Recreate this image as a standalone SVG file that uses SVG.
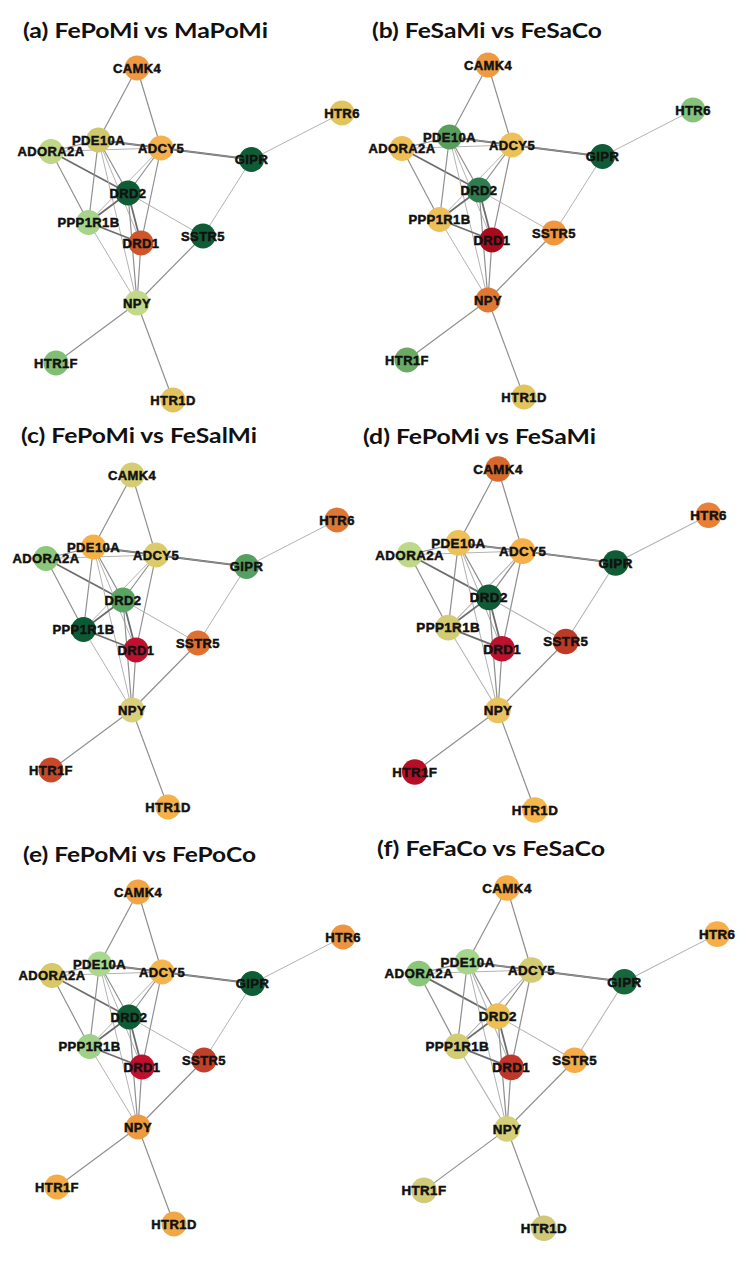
<svg xmlns="http://www.w3.org/2000/svg" width="749" height="1261" viewBox="0 0 749 1261">
<style>
.bg{fill:#ffffff}
.title{font-family:Lato,"Open Sans","Liberation Sans",sans-serif;font-weight:bold;font-size:21.5px;fill:#111}
.e{fill:none;stroke-linecap:round}
.l{stroke:#b3b3b3;stroke-width:1}
.m{stroke:#909090;stroke-width:1.2}
.d{stroke:#6e6e6e;stroke-width:1.8}
.n circle{stroke:none}
.n text{font-family:"Liberation Sans",Arial,sans-serif;font-weight:bold;font-size:13px;letter-spacing:0.4px;text-anchor:middle;fill:#111;stroke:#111;stroke-width:0.5}
</style>
<rect class="bg" x="0" y="0" width="749" height="1261"/>

<g id="titles">
<text class="title" x="23" y="38" textLength="245" lengthAdjust="spacingAndGlyphs">(a) FePoMi vs MaPoMi</text>
<text class="title" x="372" y="38" textLength="230" lengthAdjust="spacingAndGlyphs">(b) FeSaMi vs FeSaCo</text>
<text class="title" x="21" y="443" textLength="236" lengthAdjust="spacingAndGlyphs">(c) FePoMi vs FeSalMi</text>
<text class="title" x="363" y="444" textLength="233" lengthAdjust="spacingAndGlyphs">(d) FePoMi vs FeSaMi</text>
<text class="title" x="23" y="862" textLength="233" lengthAdjust="spacingAndGlyphs">(e) FePoMi vs FePoCo</text>
<text class="title" x="377" y="856" textLength="228" lengthAdjust="spacingAndGlyphs">(f) FeFaCo vs FeSaCo</text>
</g>

<!-- Panel (a) -->
<g id="panel-a" transform="translate(137,68)">
<g id="a-connectors" class="e">
<line class="m" x1="0" y1="0" x2="-38.5" y2="72"/>
<line class="m" x1="0" y1="0" x2="24" y2="80"/>
<line class="d" x1="-38.5" y1="72" x2="24" y2="80"/>
<line class="d" x1="24" y1="80" x2="114.5" y2="91.5"/>
<line class="m" x1="-38.5" y1="72" x2="114.5" y2="91.5"/>
<line class="l" x1="-86" y1="83.5" x2="24" y2="80"/>
<line class="m" x1="-86" y1="83.5" x2="-38.5" y2="72"/>
<line class="d" x1="-86" y1="83.5" x2="-9" y2="125"/>
<line class="m" x1="-86" y1="83.5" x2="-48.5" y2="154.5"/>
<line class="m" x1="-38.5" y1="72" x2="-9" y2="125"/>
<line class="m" x1="-38.5" y1="72" x2="-48.5" y2="154.5"/>
<line class="l" x1="-38.5" y1="72" x2="4" y2="175"/>
<line class="l" x1="-38.5" y1="72" x2="0" y2="235"/>
<line class="m" x1="24" y1="80" x2="-9" y2="125"/>
<line class="l" x1="24" y1="80" x2="-48.5" y2="154.5"/>
<line class="m" x1="24" y1="80" x2="4" y2="175"/>
<line class="d" x1="-9" y1="125" x2="-48.5" y2="154.5"/>
<line class="d" x1="-9" y1="125" x2="4" y2="175"/>
<line class="l" x1="-9" y1="125" x2="66" y2="168"/>
<line class="m" x1="-9" y1="125" x2="0" y2="235"/>
<line class="d" x1="-48.5" y1="154.5" x2="4" y2="175"/>
<line class="l" x1="-48.5" y1="154.5" x2="0" y2="235"/>
<line class="m" x1="4" y1="175" x2="0" y2="235"/>
<line class="l" x1="114.5" y1="91.5" x2="205" y2="45"/>
<line class="l" x1="114.5" y1="91.5" x2="66" y2="168"/>
<line class="m" x1="66" y1="168" x2="0" y2="235"/>
<line class="m" x1="0" y1="235" x2="-81" y2="295"/>
<line class="m" x1="0" y1="235" x2="36" y2="332"/>
</g>
<g id="a-CAMK4" class="n"><circle cx="0" cy="0" r="12.5" fill="#ef9a42"/><text x="0" y="4.7">CAMK4</text></g>
<g id="a-HTR6" class="n"><circle cx="205" cy="45" r="12.5" fill="#e3c35e"/><text x="205" y="49.7">HTR6</text></g>
<g id="a-PDE10A" class="n"><circle cx="-38.5" cy="72" r="12.5" fill="#d0c86e"/><text x="-38.5" y="76.7">PDE10A</text></g>
<g id="a-ADORA2A" class="n"><circle cx="-86" cy="83.5" r="12.5" fill="#bfd689"/><text x="-86" y="88.2">ADORA2A</text></g>
<g id="a-ADCY5" class="n"><circle cx="24" cy="80" r="12.5" fill="#f5b24c"/><text x="24" y="84.7">ADCY5</text></g>
<g id="a-GIPR" class="n"><circle cx="114.5" cy="91.5" r="12.5" fill="#0f5c36"/><text x="114.5" y="96.2">GIPR</text></g>
<g id="a-DRD2" class="n"><circle cx="-9" cy="125" r="12.5" fill="#0f5c36"/><text x="-9" y="129.7">DRD2</text></g>
<g id="a-PPP1R1B" class="n"><circle cx="-48.5" cy="154.5" r="12.5" fill="#a6d48a"/><text x="-48.5" y="159.2">PPP1R1B</text></g>
<g id="a-DRD1" class="n"><circle cx="4" cy="175" r="12.5" fill="#d0562a"/><text x="4" y="179.7">DRD1</text></g>
<g id="a-SSTR5" class="n"><circle cx="66" cy="168" r="12.5" fill="#0f5c36"/><text x="66" y="172.7">SSTR5</text></g>
<g id="a-NPY" class="n"><circle cx="0" cy="235" r="12.5" fill="#c2d98a"/><text x="0" y="239.7">NPY</text></g>
<g id="a-HTR1F" class="n"><circle cx="-81" cy="295" r="12.5" fill="#80bf74"/><text x="-81" y="299.7">HTR1F</text></g>
<g id="a-HTR1D" class="n"><circle cx="36" cy="332" r="12.5" fill="#e3c35e"/><text x="36" y="336.7">HTR1D</text></g>
</g>

<!-- Panel (b) -->
<g id="panel-b" transform="translate(488,65)">
<g id="b-connectors" class="e">
<line class="m" x1="0" y1="0" x2="-38.5" y2="72"/>
<line class="m" x1="0" y1="0" x2="24" y2="80"/>
<line class="d" x1="-38.5" y1="72" x2="24" y2="80"/>
<line class="d" x1="24" y1="80" x2="114.5" y2="91.5"/>
<line class="m" x1="-38.5" y1="72" x2="114.5" y2="91.5"/>
<line class="l" x1="-86" y1="83.5" x2="24" y2="80"/>
<line class="m" x1="-86" y1="83.5" x2="-38.5" y2="72"/>
<line class="d" x1="-86" y1="83.5" x2="-9" y2="125"/>
<line class="m" x1="-86" y1="83.5" x2="-48.5" y2="154.5"/>
<line class="m" x1="-38.5" y1="72" x2="-9" y2="125"/>
<line class="m" x1="-38.5" y1="72" x2="-48.5" y2="154.5"/>
<line class="l" x1="-38.5" y1="72" x2="4" y2="175"/>
<line class="l" x1="-38.5" y1="72" x2="0" y2="235"/>
<line class="m" x1="24" y1="80" x2="-9" y2="125"/>
<line class="l" x1="24" y1="80" x2="-48.5" y2="154.5"/>
<line class="m" x1="24" y1="80" x2="4" y2="175"/>
<line class="d" x1="-9" y1="125" x2="-48.5" y2="154.5"/>
<line class="d" x1="-9" y1="125" x2="4" y2="175"/>
<line class="l" x1="-9" y1="125" x2="66" y2="168"/>
<line class="m" x1="-9" y1="125" x2="0" y2="235"/>
<line class="d" x1="-48.5" y1="154.5" x2="4" y2="175"/>
<line class="l" x1="-48.5" y1="154.5" x2="0" y2="235"/>
<line class="m" x1="4" y1="175" x2="0" y2="235"/>
<line class="l" x1="114.5" y1="91.5" x2="205" y2="45"/>
<line class="l" x1="114.5" y1="91.5" x2="66" y2="168"/>
<line class="m" x1="66" y1="168" x2="0" y2="235"/>
<line class="m" x1="0" y1="235" x2="-81" y2="295"/>
<line class="m" x1="0" y1="235" x2="36" y2="332"/>
</g>
<g id="b-CAMK4" class="n"><circle cx="0" cy="0" r="12.5" fill="#ef9a42"/><text x="0" y="4.7">CAMK4</text></g>
<g id="b-HTR6" class="n"><circle cx="205" cy="45" r="12.5" fill="#86c27a"/><text x="205" y="49.7">HTR6</text></g>
<g id="b-PDE10A" class="n"><circle cx="-38.5" cy="72" r="12.5" fill="#5a9e5e"/><text x="-38.5" y="76.7">PDE10A</text></g>
<g id="b-ADORA2A" class="n"><circle cx="-86" cy="83.5" r="12.5" fill="#efbe55"/><text x="-86" y="88.2">ADORA2A</text></g>
<g id="b-ADCY5" class="n"><circle cx="24" cy="80" r="12.5" fill="#ecc158"/><text x="24" y="84.7">ADCY5</text></g>
<g id="b-GIPR" class="n"><circle cx="114.5" cy="91.5" r="12.5" fill="#0f5c36"/><text x="114.5" y="96.2">GIPR</text></g>
<g id="b-DRD2" class="n"><circle cx="-9" cy="125" r="12.5" fill="#2e7d4f"/><text x="-9" y="129.7">DRD2</text></g>
<g id="b-PPP1R1B" class="n"><circle cx="-48.5" cy="154.5" r="12.5" fill="#edc15a"/><text x="-48.5" y="159.2">PPP1R1B</text></g>
<g id="b-DRD1" class="n"><circle cx="4" cy="175" r="12.5" fill="#aa0a1a"/><text x="4" y="179.7">DRD1</text></g>
<g id="b-SSTR5" class="n"><circle cx="66" cy="168" r="12.5" fill="#f0963e"/><text x="66" y="172.7">SSTR5</text></g>
<g id="b-NPY" class="n"><circle cx="0" cy="235" r="12.5" fill="#e07833"/><text x="0" y="239.7">NPY</text></g>
<g id="b-HTR1F" class="n"><circle cx="-81" cy="295" r="12.5" fill="#6aaa62"/><text x="-81" y="299.7">HTR1F</text></g>
<g id="b-HTR1D" class="n"><circle cx="36" cy="332" r="12.5" fill="#e3c35e"/><text x="36" y="336.7">HTR1D</text></g>
</g>

<!-- Panel (c) -->
<g id="panel-c" transform="translate(132,475)">
<g id="c-connectors" class="e">
<line class="m" x1="0" y1="0" x2="-38.5" y2="72"/>
<line class="m" x1="0" y1="0" x2="24" y2="80"/>
<line class="d" x1="-38.5" y1="72" x2="24" y2="80"/>
<line class="d" x1="24" y1="80" x2="114.5" y2="91.5"/>
<line class="m" x1="-38.5" y1="72" x2="114.5" y2="91.5"/>
<line class="l" x1="-86" y1="83.5" x2="24" y2="80"/>
<line class="m" x1="-86" y1="83.5" x2="-38.5" y2="72"/>
<line class="d" x1="-86" y1="83.5" x2="-9" y2="125"/>
<line class="m" x1="-86" y1="83.5" x2="-48.5" y2="154.5"/>
<line class="m" x1="-38.5" y1="72" x2="-9" y2="125"/>
<line class="m" x1="-38.5" y1="72" x2="-48.5" y2="154.5"/>
<line class="l" x1="-38.5" y1="72" x2="4" y2="175"/>
<line class="l" x1="-38.5" y1="72" x2="0" y2="235"/>
<line class="m" x1="24" y1="80" x2="-9" y2="125"/>
<line class="l" x1="24" y1="80" x2="-48.5" y2="154.5"/>
<line class="m" x1="24" y1="80" x2="4" y2="175"/>
<line class="d" x1="-9" y1="125" x2="-48.5" y2="154.5"/>
<line class="d" x1="-9" y1="125" x2="4" y2="175"/>
<line class="l" x1="-9" y1="125" x2="66" y2="168"/>
<line class="m" x1="-9" y1="125" x2="0" y2="235"/>
<line class="d" x1="-48.5" y1="154.5" x2="4" y2="175"/>
<line class="l" x1="-48.5" y1="154.5" x2="0" y2="235"/>
<line class="m" x1="4" y1="175" x2="0" y2="235"/>
<line class="l" x1="114.5" y1="91.5" x2="205" y2="45"/>
<line class="l" x1="114.5" y1="91.5" x2="66" y2="168"/>
<line class="m" x1="66" y1="168" x2="0" y2="235"/>
<line class="m" x1="0" y1="235" x2="-81" y2="295"/>
<line class="m" x1="0" y1="235" x2="36" y2="332"/>
</g>
<g id="c-CAMK4" class="n"><circle cx="0" cy="0" r="12.5" fill="#d6cd72"/><text x="0" y="4.7">CAMK4</text></g>
<g id="c-HTR6" class="n"><circle cx="205" cy="45" r="12.5" fill="#e07633"/><text x="205" y="49.7">HTR6</text></g>
<g id="c-PDE10A" class="n"><circle cx="-38.5" cy="72" r="12.5" fill="#f5b048"/><text x="-38.5" y="76.7">PDE10A</text></g>
<g id="c-ADORA2A" class="n"><circle cx="-86" cy="83.5" r="12.5" fill="#8cc77c"/><text x="-86" y="88.2">ADORA2A</text></g>
<g id="c-ADCY5" class="n"><circle cx="24" cy="80" r="12.5" fill="#dccb6a"/><text x="24" y="84.7">ADCY5</text></g>
<g id="c-GIPR" class="n"><circle cx="114.5" cy="91.5" r="12.5" fill="#55a060"/><text x="114.5" y="96.2">GIPR</text></g>
<g id="c-DRD2" class="n"><circle cx="-9" cy="125" r="12.5" fill="#5aa462"/><text x="-9" y="129.7">DRD2</text></g>
<g id="c-PPP1R1B" class="n"><circle cx="-48.5" cy="154.5" r="12.5" fill="#0d5b35"/><text x="-48.5" y="159.2">PPP1R1B</text></g>
<g id="c-DRD1" class="n"><circle cx="4" cy="175" r="12.5" fill="#c0102e"/><text x="4" y="179.7">DRD1</text></g>
<g id="c-SSTR5" class="n"><circle cx="66" cy="168" r="12.5" fill="#e07030"/><text x="66" y="172.7">SSTR5</text></g>
<g id="c-NPY" class="n"><circle cx="0" cy="235" r="12.5" fill="#d8d07a"/><text x="0" y="239.7">NPY</text></g>
<g id="c-HTR1F" class="n"><circle cx="-81" cy="295" r="12.5" fill="#c8482a"/><text x="-81" y="299.7">HTR1F</text></g>
<g id="c-HTR1D" class="n"><circle cx="36" cy="332" r="12.5" fill="#f5b048"/><text x="36" y="336.7">HTR1D</text></g>
</g>

<!-- Panel (d) -->
<g id="panel-d" transform="translate(498,469) scale(1.027)">
<g id="d-connectors" class="e">
<line class="m" x1="0" y1="0" x2="-38.5" y2="72"/>
<line class="m" x1="0" y1="0" x2="24" y2="80"/>
<line class="d" x1="-38.5" y1="72" x2="24" y2="80"/>
<line class="d" x1="24" y1="80" x2="114.5" y2="91.5"/>
<line class="m" x1="-38.5" y1="72" x2="114.5" y2="91.5"/>
<line class="l" x1="-86" y1="83.5" x2="24" y2="80"/>
<line class="m" x1="-86" y1="83.5" x2="-38.5" y2="72"/>
<line class="d" x1="-86" y1="83.5" x2="-9" y2="125"/>
<line class="m" x1="-86" y1="83.5" x2="-48.5" y2="154.5"/>
<line class="m" x1="-38.5" y1="72" x2="-9" y2="125"/>
<line class="m" x1="-38.5" y1="72" x2="-48.5" y2="154.5"/>
<line class="l" x1="-38.5" y1="72" x2="4" y2="175"/>
<line class="l" x1="-38.5" y1="72" x2="0" y2="235"/>
<line class="m" x1="24" y1="80" x2="-9" y2="125"/>
<line class="l" x1="24" y1="80" x2="-48.5" y2="154.5"/>
<line class="m" x1="24" y1="80" x2="4" y2="175"/>
<line class="d" x1="-9" y1="125" x2="-48.5" y2="154.5"/>
<line class="d" x1="-9" y1="125" x2="4" y2="175"/>
<line class="l" x1="-9" y1="125" x2="66" y2="168"/>
<line class="m" x1="-9" y1="125" x2="0" y2="235"/>
<line class="d" x1="-48.5" y1="154.5" x2="4" y2="175"/>
<line class="l" x1="-48.5" y1="154.5" x2="0" y2="235"/>
<line class="m" x1="4" y1="175" x2="0" y2="235"/>
<line class="l" x1="114.5" y1="91.5" x2="205" y2="45"/>
<line class="l" x1="114.5" y1="91.5" x2="66" y2="168"/>
<line class="m" x1="66" y1="168" x2="0" y2="235"/>
<line class="m" x1="0" y1="235" x2="-81" y2="295"/>
<line class="m" x1="0" y1="235" x2="36" y2="332"/>
</g>
<g id="d-CAMK4" class="n"><circle cx="0" cy="0" r="12.5" fill="#d8682c"/><text x="0" y="4.7">CAMK4</text></g>
<g id="d-HTR6" class="n"><circle cx="205" cy="45" r="12.5" fill="#e88038"/><text x="205" y="49.7">HTR6</text></g>
<g id="d-PDE10A" class="n"><circle cx="-38.5" cy="72" r="12.5" fill="#efbf58"/><text x="-38.5" y="76.7">PDE10A</text></g>
<g id="d-ADORA2A" class="n"><circle cx="-86" cy="83.5" r="12.5" fill="#bcd888"/><text x="-86" y="88.2">ADORA2A</text></g>
<g id="d-ADCY5" class="n"><circle cx="24" cy="80" r="12.5" fill="#f6b14a"/><text x="24" y="84.7">ADCY5</text></g>
<g id="d-GIPR" class="n"><circle cx="114.5" cy="91.5" r="12.5" fill="#0f5c36"/><text x="114.5" y="96.2">GIPR</text></g>
<g id="d-DRD2" class="n"><circle cx="-9" cy="125" r="12.5" fill="#0f5c36"/><text x="-9" y="129.7">DRD2</text></g>
<g id="d-PPP1R1B" class="n"><circle cx="-48.5" cy="154.5" r="12.5" fill="#d4cc74"/><text x="-48.5" y="159.2">PPP1R1B</text></g>
<g id="d-DRD1" class="n"><circle cx="4" cy="175" r="12.5" fill="#c0102e"/><text x="4" y="179.7">DRD1</text></g>
<g id="d-SSTR5" class="n"><circle cx="66" cy="168" r="12.5" fill="#bf3a25"/><text x="66" y="172.7">SSTR5</text></g>
<g id="d-NPY" class="n"><circle cx="0" cy="235" r="12.5" fill="#ebc25e"/><text x="0" y="239.7">NPY</text></g>
<g id="d-HTR1F" class="n"><circle cx="-81" cy="295" r="12.5" fill="#b80e25"/><text x="-81" y="299.7">HTR1F</text></g>
<g id="d-HTR1D" class="n"><circle cx="36" cy="332" r="12.5" fill="#f4b84e"/><text x="36" y="336.7">HTR1D</text></g>
</g>

<!-- Panel (e) -->
<g id="panel-e" transform="translate(138,892)">
<g id="e-connectors" class="e">
<line class="m" x1="0" y1="0" x2="-38.5" y2="72"/>
<line class="m" x1="0" y1="0" x2="24" y2="80"/>
<line class="d" x1="-38.5" y1="72" x2="24" y2="80"/>
<line class="d" x1="24" y1="80" x2="114.5" y2="91.5"/>
<line class="m" x1="-38.5" y1="72" x2="114.5" y2="91.5"/>
<line class="l" x1="-86" y1="83.5" x2="24" y2="80"/>
<line class="m" x1="-86" y1="83.5" x2="-38.5" y2="72"/>
<line class="d" x1="-86" y1="83.5" x2="-9" y2="125"/>
<line class="m" x1="-86" y1="83.5" x2="-48.5" y2="154.5"/>
<line class="m" x1="-38.5" y1="72" x2="-9" y2="125"/>
<line class="m" x1="-38.5" y1="72" x2="-48.5" y2="154.5"/>
<line class="l" x1="-38.5" y1="72" x2="4" y2="175"/>
<line class="l" x1="-38.5" y1="72" x2="0" y2="235"/>
<line class="m" x1="24" y1="80" x2="-9" y2="125"/>
<line class="l" x1="24" y1="80" x2="-48.5" y2="154.5"/>
<line class="m" x1="24" y1="80" x2="4" y2="175"/>
<line class="d" x1="-9" y1="125" x2="-48.5" y2="154.5"/>
<line class="d" x1="-9" y1="125" x2="4" y2="175"/>
<line class="l" x1="-9" y1="125" x2="66" y2="168"/>
<line class="m" x1="-9" y1="125" x2="0" y2="235"/>
<line class="d" x1="-48.5" y1="154.5" x2="4" y2="175"/>
<line class="l" x1="-48.5" y1="154.5" x2="0" y2="235"/>
<line class="m" x1="4" y1="175" x2="0" y2="235"/>
<line class="l" x1="114.5" y1="91.5" x2="205" y2="45"/>
<line class="l" x1="114.5" y1="91.5" x2="66" y2="168"/>
<line class="m" x1="66" y1="168" x2="0" y2="235"/>
<line class="m" x1="0" y1="235" x2="-81" y2="295"/>
<line class="m" x1="0" y1="235" x2="36" y2="332"/>
</g>
<g id="e-CAMK4" class="n"><circle cx="0" cy="0" r="12.5" fill="#f3a445"/><text x="0" y="4.7">CAMK4</text></g>
<g id="e-HTR6" class="n"><circle cx="205" cy="45" r="12.5" fill="#ee9440"/><text x="205" y="49.7">HTR6</text></g>
<g id="e-PDE10A" class="n"><circle cx="-38.5" cy="72" r="12.5" fill="#a9d88e"/><text x="-38.5" y="76.7">PDE10A</text></g>
<g id="e-ADORA2A" class="n"><circle cx="-86" cy="83.5" r="12.5" fill="#d8c868"/><text x="-86" y="88.2">ADORA2A</text></g>
<g id="e-ADCY5" class="n"><circle cx="24" cy="80" r="12.5" fill="#f3b64c"/><text x="24" y="84.7">ADCY5</text></g>
<g id="e-GIPR" class="n"><circle cx="114.5" cy="91.5" r="12.5" fill="#0f5c36"/><text x="114.5" y="96.2">GIPR</text></g>
<g id="e-DRD2" class="n"><circle cx="-9" cy="125" r="12.5" fill="#0f5c36"/><text x="-9" y="129.7">DRD2</text></g>
<g id="e-PPP1R1B" class="n"><circle cx="-48.5" cy="154.5" r="12.5" fill="#9fd188"/><text x="-48.5" y="159.2">PPP1R1B</text></g>
<g id="e-DRD1" class="n"><circle cx="4" cy="175" r="12.5" fill="#c0102e"/><text x="4" y="179.7">DRD1</text></g>
<g id="e-SSTR5" class="n"><circle cx="66" cy="168" r="12.5" fill="#c0402a"/><text x="66" y="172.7">SSTR5</text></g>
<g id="e-NPY" class="n"><circle cx="0" cy="235" r="12.5" fill="#ee9a3e"/><text x="0" y="239.7">NPY</text></g>
<g id="e-HTR1F" class="n"><circle cx="-81" cy="295" r="12.5" fill="#f4ab45"/><text x="-81" y="299.7">HTR1F</text></g>
<g id="e-HTR1D" class="n"><circle cx="36" cy="332" r="12.5" fill="#f1a743"/><text x="36" y="336.7">HTR1D</text></g>
</g>

<!-- Panel (f) -->
<g id="panel-f" transform="translate(507,888) scale(1.025)">
<g id="f-connectors" class="e">
<line class="m" x1="0" y1="0" x2="-38.5" y2="72"/>
<line class="m" x1="0" y1="0" x2="24" y2="80"/>
<line class="d" x1="-38.5" y1="72" x2="24" y2="80"/>
<line class="d" x1="24" y1="80" x2="114.5" y2="91.5"/>
<line class="m" x1="-38.5" y1="72" x2="114.5" y2="91.5"/>
<line class="l" x1="-86" y1="83.5" x2="24" y2="80"/>
<line class="m" x1="-86" y1="83.5" x2="-38.5" y2="72"/>
<line class="d" x1="-86" y1="83.5" x2="-9" y2="125"/>
<line class="m" x1="-86" y1="83.5" x2="-48.5" y2="154.5"/>
<line class="m" x1="-38.5" y1="72" x2="-9" y2="125"/>
<line class="m" x1="-38.5" y1="72" x2="-48.5" y2="154.5"/>
<line class="l" x1="-38.5" y1="72" x2="4" y2="175"/>
<line class="l" x1="-38.5" y1="72" x2="0" y2="235"/>
<line class="m" x1="24" y1="80" x2="-9" y2="125"/>
<line class="l" x1="24" y1="80" x2="-48.5" y2="154.5"/>
<line class="m" x1="24" y1="80" x2="4" y2="175"/>
<line class="d" x1="-9" y1="125" x2="-48.5" y2="154.5"/>
<line class="d" x1="-9" y1="125" x2="4" y2="175"/>
<line class="l" x1="-9" y1="125" x2="66" y2="168"/>
<line class="m" x1="-9" y1="125" x2="0" y2="235"/>
<line class="d" x1="-48.5" y1="154.5" x2="4" y2="175"/>
<line class="l" x1="-48.5" y1="154.5" x2="0" y2="235"/>
<line class="m" x1="4" y1="175" x2="0" y2="235"/>
<line class="l" x1="114.5" y1="91.5" x2="205" y2="45"/>
<line class="l" x1="114.5" y1="91.5" x2="66" y2="168"/>
<line class="m" x1="66" y1="168" x2="0" y2="235"/>
<line class="m" x1="0" y1="235" x2="-81" y2="295"/>
<line class="m" x1="0" y1="235" x2="36" y2="332"/>
</g>
<g id="f-CAMK4" class="n"><circle cx="0" cy="0" r="12.5" fill="#f7ac45"/><text x="0" y="4.7">CAMK4</text></g>
<g id="f-HTR6" class="n"><circle cx="205" cy="45" r="12.5" fill="#f7ae4a"/><text x="205" y="49.7">HTR6</text></g>
<g id="f-PDE10A" class="n"><circle cx="-38.5" cy="72" r="12.5" fill="#a5d68c"/><text x="-38.5" y="76.7">PDE10A</text></g>
<g id="f-ADORA2A" class="n"><circle cx="-86" cy="83.5" r="12.5" fill="#8ac77a"/><text x="-86" y="88.2">ADORA2A</text></g>
<g id="f-ADCY5" class="n"><circle cx="24" cy="80" r="12.5" fill="#d4cc72"/><text x="24" y="84.7">ADCY5</text></g>
<g id="f-GIPR" class="n"><circle cx="114.5" cy="91.5" r="12.5" fill="#16683c"/><text x="114.5" y="96.2">GIPR</text></g>
<g id="f-DRD2" class="n"><circle cx="-9" cy="125" r="12.5" fill="#efbf55"/><text x="-9" y="129.7">DRD2</text></g>
<g id="f-PPP1R1B" class="n"><circle cx="-48.5" cy="154.5" r="12.5" fill="#d2cc74"/><text x="-48.5" y="159.2">PPP1R1B</text></g>
<g id="f-DRD1" class="n"><circle cx="4" cy="175" r="12.5" fill="#c0362a"/><text x="4" y="179.7">DRD1</text></g>
<g id="f-SSTR5" class="n"><circle cx="66" cy="168" r="12.5" fill="#f7aa45"/><text x="66" y="172.7">SSTR5</text></g>
<g id="f-NPY" class="n"><circle cx="0" cy="235" r="12.5" fill="#d4cf78"/><text x="0" y="239.7">NPY</text></g>
<g id="f-HTR1F" class="n"><circle cx="-81" cy="295" r="12.5" fill="#d0cb78"/><text x="-81" y="299.7">HTR1F</text></g>
<g id="f-HTR1D" class="n"><circle cx="36" cy="332" r="12.5" fill="#d0c878"/><text x="36" y="336.7">HTR1D</text></g>
</g>
</svg>
